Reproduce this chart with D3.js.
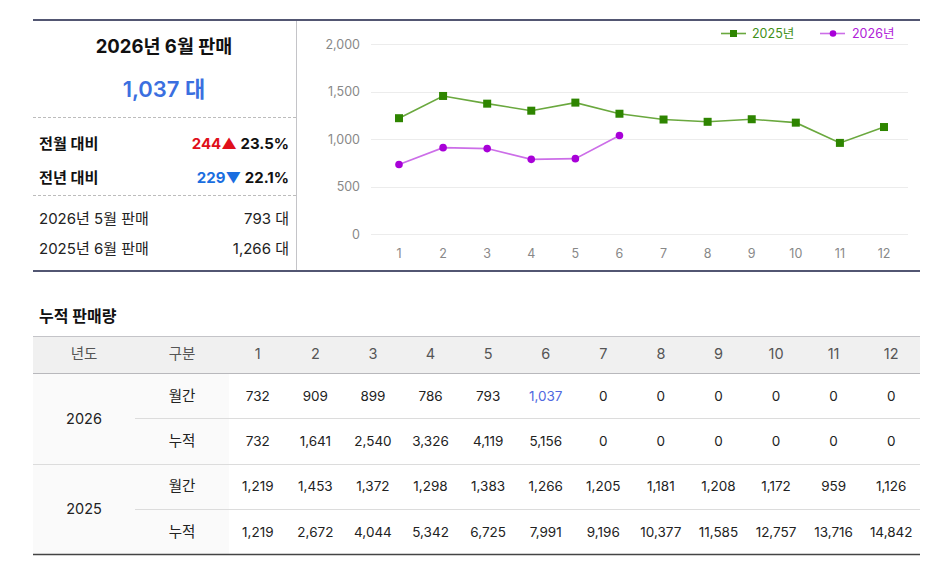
<!DOCTYPE html>
<html>
<head>
<meta charset="utf-8">
<script src="https://cdn.jsdelivr.net/npm/d3@7"></script>
<style>
  body { margin: 0; background: #fff; }
  svg text { font-family: Inter, "Noto Sans CJK KR", sans-serif; }
</style>
</head>
<body>
<svg id="page" width="948" height="565"></svg>
<script>
// chart data
var months = [1, 2, 3, 4, 5, 6, 7, 8, 9, 10, 11, 12];
var sales2025 = [1219, 1453, 1372, 1298, 1383, 1266, 1205, 1181, 1208, 1172, 959, 1126];
var sales2026 = [732, 909, 899, 786, 793, 1037];
var yTicks = [0, 500, 1000, 1500, 2000];

// table data
var monthly2026 = [732, 909, 899, 786, 793, 1037, 0, 0, 0, 0, 0, 0];
var cumul2026 = [732, 1641, 2540, 3326, 4119, 5156, 0, 0, 0, 0, 0, 0];
var monthly2025 = [1219, 1453, 1372, 1298, 1383, 1266, 1205, 1181, 1208, 1172, 959, 1126];
var cumul2025 = [1219, 2672, 4044, 5342, 6725, 7991, 9196, 10377, 11585, 12757, 13716, 14842];

// summary
var summaryTitle = "2026년 6월 판매";
var summaryValue = "1,037 대";
var compareRows = [
  { label: "전월 대비", diff: "244", arrow: "▲", pct: "23.5%", color: "#e0101a" },
  { label: "전년 대비", diff: "229", arrow: "▼", pct: "22.1%", color: "#1a6ee0" }
];
var prevRows = [
  { label: "2026년 5월 판매", value: "793 대" },
  { label: "2025년 6월 판매", value: "1,266 대" }
];

var svg = d3.select("#page");
var fmt = d3.format(",");

// ---------- top panel frame ----------
svg.append("line").attr("x1", 33).attr("x2", 920).attr("y1", 20).attr("y2", 20)
  .attr("stroke", "#525672").attr("stroke-width", 2);
svg.append("line").attr("x1", 33).attr("x2", 920).attr("y1", 271).attr("y2", 271)
  .attr("stroke", "#525672").attr("stroke-width", 2);
svg.append("line").attr("x1", 296.5).attr("x2", 296.5).attr("y1", 21).attr("y2", 270)
  .attr("stroke", "#c4c4c8").attr("stroke-width", 1);

// ---------- summary (left) ----------
svg.append("text").attr("x", 164).attr("y", 53).attr("text-anchor", "middle")
  .attr("font-size", 18.5).attr("font-weight", 700).attr("fill", "#111").text(summaryTitle);
svg.append("text").attr("x", 164).attr("y", 97).attr("text-anchor", "middle")
  .attr("font-size", 22).attr("font-weight", 600).attr("fill", "#3b6fe0").text(summaryValue);

[117.5, 195.5].forEach(function(y) {
  svg.append("line").attr("x1", 33).attr("x2", 296).attr("y1", y).attr("y2", y)
    .attr("stroke", "#bcbcbc").attr("stroke-dasharray", "3,2");
});

compareRows.forEach(function(r, i) {
  var y = 149 + i * 34;
  svg.append("text").attr("x", 39).attr("y", y).attr("font-size", 15.2)
    .attr("font-weight", 700).attr("fill", "#111").text(r.label);
  var t = svg.append("text").attr("x", 289).attr("y", y).attr("text-anchor", "end")
    .attr("font-size", 15).attr("font-weight", 700);
  t.append("tspan").attr("fill", r.color).text(r.diff);
  t.append("tspan").attr("fill", r.color).text(r.arrow);
  t.append("tspan").attr("fill", "#111").text(" " + r.pct);
});

prevRows.forEach(function(r, i) {
  var y = 224 + i * 30;
  svg.append("text").attr("x", 39).attr("y", y).attr("font-size", 15)
    .attr("fill", "#222").text(r.label);
  svg.append("text").attr("x", 289).attr("y", y).attr("text-anchor", "end")
    .attr("font-size", 15).attr("fill", "#222").text(r.value);
});

// ---------- line chart ----------
var x = d3.scalePoint().domain(months).range([399, 884]);
var y = d3.scaleLinear().domain([0, 2000]).range([234, 44]);

var grid = svg.append("g");
grid.selectAll("line").data(yTicks).enter().append("line")
  .attr("x1", 371).attr("x2", 908)
  .attr("y1", function(d) { return Math.round(y(d)) + 0.5; })
  .attr("y2", function(d) { return Math.round(y(d)) + 0.5; })
  .attr("stroke", "#ececec");
grid.selectAll("text").data(yTicks).enter().append("text")
  .attr("x", 360).attr("y", function(d) { return y(d) + 4.5; })
  .attr("text-anchor", "end").attr("font-size", 12.5).attr("fill", "#888")
  .text(function(d) { return fmt(d); });

svg.append("g").selectAll("text").data(months).enter().append("text")
  .attr("x", function(d) { return x(d); }).attr("y", 258)
  .attr("text-anchor", "middle").attr("font-size", 12.5).attr("fill", "#888")
  .text(function(d) { return d; });

var line = d3.line()
  .x(function(d, i) { return x(months[i]); })
  .y(function(d) { return y(d); });

svg.append("path").datum(sales2025).attr("d", line)
  .attr("fill", "none").attr("stroke", "#6aa83e").attr("stroke-width", 1.6);
svg.append("g").selectAll("rect").data(sales2025).enter().append("rect")
  .attr("x", function(d, i) { return x(months[i]) - 4; })
  .attr("y", function(d) { return y(d) - 4; })
  .attr("width", 8).attr("height", 8).attr("fill", "#2e8500");

svg.append("path").datum(sales2026).attr("d", line)
  .attr("fill", "none").attr("stroke", "#cc6ee8").attr("stroke-width", 1.6);
svg.append("g").selectAll("circle").data(sales2026).enter().append("circle")
  .attr("cx", function(d, i) { return x(months[i]); })
  .attr("cy", function(d) { return y(d); })
  .attr("r", 3.8).attr("fill", "#a800d8");

// legend
var legend = svg.append("g");
var legendItems = [
  { name: "2025년", line: "#6aa83e", mark: "#2e8500", shape: "rect", x: 721, tx: 752, color: "#3f8f18" },
  { name: "2026년", line: "#cc6ee8", mark: "#a800d8", shape: "circle", x: 820, tx: 852, color: "#b020d8" }
];
legendItems.forEach(function(l) {
  legend.append("line").attr("x1", l.x).attr("x2", l.x + 25).attr("y1", 33.5).attr("y2", 33.5)
    .attr("stroke", l.line).attr("stroke-width", 1.6);
  if (l.shape == "rect") {
    legend.append("rect").attr("x", l.x + 9).attr("y", 30).attr("width", 7).attr("height", 7).attr("fill", l.mark);
  } else {
    legend.append("circle").attr("cx", l.x + 13).attr("cy", 33.5).attr("r", 3.3).attr("fill", l.mark);
  }
  legend.append("text").attr("x", l.tx).attr("y", 38).attr("font-size", 12.5)
    .attr("fill", l.color).text(l.name);
});

// ---------- table ----------
svg.append("text").attr("x", 39).attr("y", 322).attr("font-size", 16)
  .attr("font-weight", 700).attr("fill", "#111").text("누적 판매량");

var colX = d3.scaleBand().domain(months).range([229, 920]);
var headerTop = 336, headerBottom = 373, rowH = 45.3;

svg.append("rect").attr("x", 33).attr("y", headerTop).attr("width", 887)
  .attr("height", headerBottom - headerTop).attr("fill", "#f0f0f0");
svg.append("rect").attr("x", 33).attr("y", headerBottom).attr("width", 196)
  .attr("height", rowH * 4).attr("fill", "#fafafa");
svg.append("line").attr("x1", 33).attr("x2", 920).attr("y1", headerTop + 0.5).attr("y2", headerTop + 0.5)
  .attr("stroke", "#c4c4c8");
svg.append("line").attr("x1", 33).attr("x2", 920).attr("y1", headerBottom + 0.5).attr("y2", headerBottom + 0.5)
  .attr("stroke", "#b8b8bc");

var header = svg.append("g").attr("font-size", 14.5).attr("fill", "#555");
header.append("text").attr("x", 84).attr("y", 359).attr("text-anchor", "middle").text("년도");
header.append("text").attr("x", 182).attr("y", 359).attr("text-anchor", "middle").text("구분");
header.selectAll("text.m").data(months).enter().append("text").attr("class", "m")
  .attr("x", function(d) { return colX(d) + colX.bandwidth() / 2; })
  .attr("y", 359).attr("text-anchor", "middle").text(function(d) { return d; });

var tableRows = [
  { year: "2026", kind: "월간", values: monthly2026 },
  { year: "2026", kind: "누적", values: cumul2026 },
  { year: "2025", kind: "월간", values: monthly2025 },
  { year: "2025", kind: "누적", values: cumul2025 }
];

tableRows.forEach(function(r, i) {
  var top = headerBottom + i * rowH;
  var mid = top + rowH / 2 + 5;
  if (i % 2 == 0) {
    svg.append("text").attr("x", 84).attr("y", top + rowH + 5.5).attr("text-anchor", "middle")
      .attr("font-size", 14.5).attr("fill", "#222").text(r.year);
  }
  svg.append("text").attr("x", 182).attr("y", mid).attr("text-anchor", "middle")
    .attr("font-size", 14.5).attr("fill", "#222").text(r.kind);
  svg.append("g").selectAll("text").data(r.values).enter().append("text")
    .attr("x", function(d, j) { return colX(months[j]) + colX.bandwidth() / 2; })
    .attr("y", mid).attr("text-anchor", "middle").attr("font-size", 13.5)
    .attr("fill", function(d, j) { return (i == 0 && j == 5) ? "#5068e0" : "#222"; })
    .text(function(d) { return fmt(d); });
  if (i < 3) {
    var ly = Math.round(top + rowH) + 0.5;
    svg.append("line").attr("x1", i == 1 ? 33 : 135).attr("x2", 920).attr("y1", ly).attr("y2", ly)
      .attr("stroke", "#dcdcdc");
  }
});

svg.append("line").attr("x1", 33).attr("x2", 920).attr("y1", 554.5).attr("y2", 554.5)
  .attr("stroke", "#444").attr("stroke-width", 1.5);
</script>
</body>
</html>
